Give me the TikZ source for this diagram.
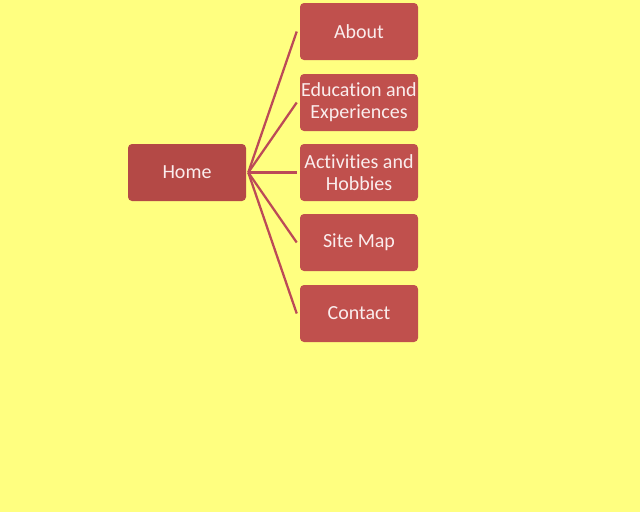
\documentclass[tikz,border=0pt]{standalone}
\usepackage{fontspec}
\setmainfont{Carlito}[Ligatures={NoCommon}]
\usetikzlibrary{calc}
\definecolor{bg}{HTML}{FFFF80}
\definecolor{boxred}{HTML}{C0504D}
\definecolor{homered}{HTML}{B44946}
\definecolor{linkred}{HTML}{BC4A57}
\definecolor{txt}{HTML}{FAEDED}
\begin{document}
\begin{tikzpicture}[x=0.75pt,y=-0.75pt,
  pagebox/.style={fill=boxred, rounded corners=3pt, minimum width=88.5pt, minimum height=42.75pt,
    inner sep=0pt, text=txt, align=center, font=\fontsize{15}{16.5}\selectfont},
  homebox/.style={pagebox, fill=homered},
  link/.style={draw=linkred, line width=1.7pt}]
\fill[bg] (0,0) rectangle (640,512);
\useasboundingbox (0,0) rectangle (640,512);
\node[homebox] (home) at (187,172.5) {Home};
\node[pagebox] (about) at (359,31.5) {About};
\node[pagebox] (edu) at (359,102.5) {Education and\\Experiences};
\node[pagebox] (act) at (359,172.5) {Activities and\\Hobbies};
\node[pagebox] (site) at (359,242.5) {Site Map};
\node[pagebox] (contact) at (359,313.5) {Contact};
\coordinate (hub) at ($(home.east)+(2,0)$);
\foreach \c in {about,edu,act,site,contact}{
  \coordinate (\c-end) at ($(\c.west)+(-3,0)$);
  \draw[link] (hub) -- (\c-end);
}
\end{tikzpicture}
\end{document}
